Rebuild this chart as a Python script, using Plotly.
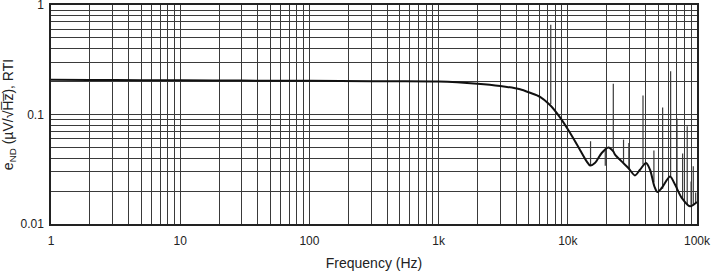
import plotly.graph_objects as go

# Main noise-density curve (Hz, uV/rtHz)
curve_freq = [1, 2, 5, 10, 30, 100, 300, 1000, 2000, 3000, 4270, 5100, 6100, 7280,
              8700, 10400, 12400, 14000, 14900, 16200, 18300, 20600, 22500, 23200,
              26100, 29400, 33100, 36200, 40300, 43300, 46800, 49300, 53300, 61800,
              67600, 76200, 88300, 100000]
curve_val = [0.208, 0.207, 0.206, 0.205, 0.204, 0.203, 0.201, 0.200, 0.191, 0.182,
             0.170, 0.158, 0.145, 0.122, 0.094, 0.068, 0.0477, 0.0373, 0.0342, 0.036,
             0.0445, 0.050, 0.046, 0.043, 0.0373, 0.0325, 0.0278, 0.0313, 0.036,
             0.0313, 0.022, 0.0196, 0.0213, 0.0272, 0.0229, 0.0173, 0.0145, 0.0159]

# Spurious spikes: frequency, start (on curve) and end level
spike_freq = [7380, 15000, 19500, 22500, 27000, 29700, 38200, 46400, 54200, 62500,
              70000, 77400, 84000, 90000, 93600, 97700]
spike_start = [0.125, 0.034, 0.049, 0.046, 0.036, 0.032, 0.035, 0.024, 0.021, 0.027,
               0.021, 0.017, 0.0152, 0.0145, 0.0148, 0.0155]
spike_end = [0.66, 0.057, 0.034, 0.191, 0.059, 0.055, 0.149, 0.047, 0.116, 0.248,
             0.092, 0.044, 0.078, 0.0245, 0.0336, 0.0194]

x_tickvals = [1, 10, 100, 1000, 10000, 100000]
x_ticktext = ["1", "10", "100", "1k", "10k", "100k"]
y_tickvals = [0.01, 0.1, 1]
y_ticktext = ["0.01", "0.1", "1"]

sx, sy = [], []
for f, a, b in zip(spike_freq, spike_start, spike_end):
    sx += [f, f, None]
    sy += [a, b, None]

fig = go.Figure()
fig.add_trace(go.Scatter(x=sx, y=sy, mode="lines",
                         line=dict(color="#3a3a3a", width=1.2), hoverinfo="skip"))
fig.add_trace(go.Scatter(x=curve_freq, y=curve_val, mode="lines",
                         line=dict(color="#111111", width=2, shape="spline", smoothing=0.8)))

grid = "#3a3a3a"
font = dict(family="Liberation Sans, Arial, sans-serif", size=12, color="#222222")
fig.update_layout(
    width=713, height=271,
    margin=dict(l=51, r=16, t=5, b=47, autoexpand=False),
    paper_bgcolor="white", plot_bgcolor="white",
    showlegend=False, font=font,
    xaxis=dict(type="log", range=[0, 5], tickvals=x_tickvals, ticktext=x_ticktext,
               showgrid=True, gridcolor=grid, gridwidth=1, ticks="", automargin=False,
               ticklabelstandoff=5, ticklabeloverflow="allow",
               minor=dict(dtick="D1", showgrid=True, gridcolor=grid, gridwidth=1),
               showline=True, mirror=True, linecolor="#222222", linewidth=1.5,
               title=dict(text="Frequency (Hz)", standoff=14), zeroline=False),
    yaxis=dict(type="log", range=[-2, 0], tickvals=y_tickvals, ticktext=y_ticktext,
               showgrid=True, gridcolor=grid, gridwidth=1, ticks="", automargin=False,
               ticklabelstandoff=3, ticklabeloverflow="allow",
               minor=dict(dtick="D1", showgrid=True, gridcolor=grid, gridwidth=1),
               showline=True, mirror=True, linecolor="#222222", linewidth=1.5,
               title=dict(text="e<sub>ND</sub> (µV/√H\u0305z\u0305), RTI",
                          standoff=6), zeroline=False),
)
fig.write_html("out.html")
